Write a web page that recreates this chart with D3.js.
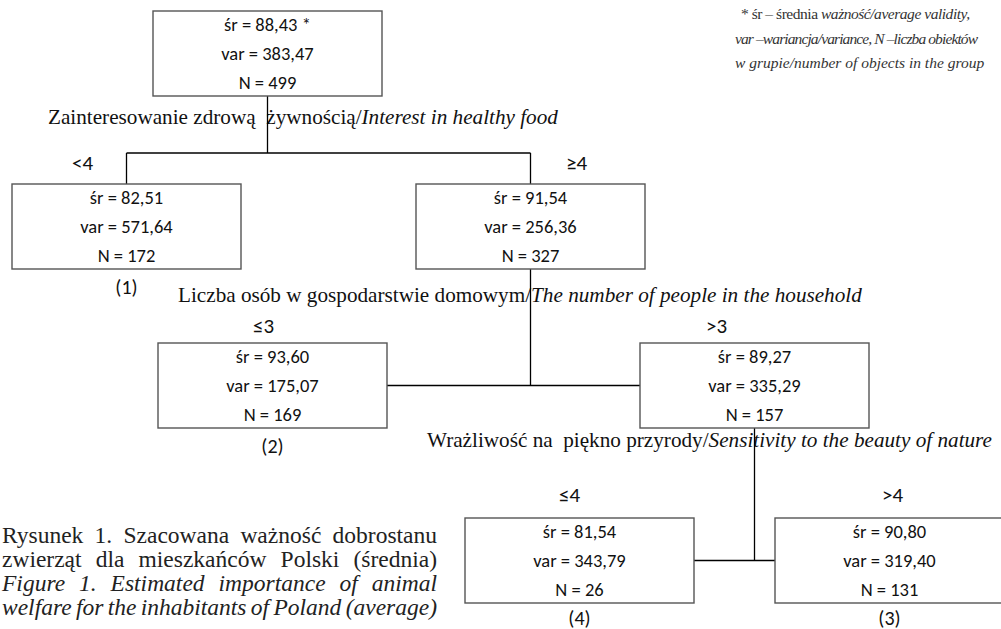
<!DOCTYPE html>
<html>
<head>
<meta charset="utf-8">
<script src="https://cdn.jsdelivr.net/npm/d3@7"></script>
<style>
body { margin: 0; background: #fff; }
svg { display: block; }
</style>
</head>
<body>
<svg id="chart"></svg>
<script>
// regression tree data
const nodeIds = ["root", "n1", "n2", "n3", "n4", "n5", "n6"];
const nodeDepth = [0, 1, 1, 2, 2, 3, 3];
const nodeMean = ["88,43 *", "82,51", "91,54", "93,60", "89,27", "81,54", "90,80"];
const nodeVar = ["383,47", "571,64", "256,36", "175,07", "335,29", "343,79", "319,40"];
const nodeN = [499, 172, 327, 169, 157, 26, 131];
const nodeParent = [null, "root", "root", "n2", "n2", "n4", "n4"];
const nodeCond = [null, "<4", "≥4", "≤3", ">3", "≤4", ">4"];
const nodeLeaf = [null, "(1)", null, "(2)", null, "(4)", "(3)"];

const splitParent = ["root", "n2", "n4"];
const splitPl = ["Zainteresowanie zdrową\u00a0 żywnością/", "Liczba osób w gospodarstwie domowym/", "Wrażliwość na\u00a0 piękno przyrody/"];
const splitEn = ["Interest in healthy food", "The number of people in the household", "Sensitivity to the beauty of nature"];

const noteLines = [
    [["* śr – średnia ", false], ["ważność/average validity,", true]],
    [["var –wariancja/variance, N –liczba obiektów", true]],
    [["w grupie/number of objects in the group", true]]
];
const captionLines = [
    ["Rysunek 1. Szacowana ważność dobrostanu", false],
    ["zwierząt dla mieszkańców Polski (średnia)", false],
    ["Figure 1. Estimated importance of animal", true],
    ["welfare for the inhabitants of Poland (average)", true]
];

const width = 1001, height = 629;
const boxW = 229, boxH = 85;
const serif = "'Liberation Serif', 'Times New Roman', serif";
const boxFont = "Carlito, Calibri, Lato, sans-serif";

const svg = d3.select("#chart").attr("width", width).attr("height", height);

// layout scales (hand placed like the original figure)
const yTop = d3.scaleOrdinal().domain([0, 1, 2, 3]).range([11, 184, 343, 518]);
const xMid = d3.scaleOrdinal().domain(nodeIds).range([267.5, 126.5, 530.5, 272.5, 754.5, 579.5, 889.5]);
const condDx = d3.scaleOrdinal().domain(nodeIds).range([0, -44, 46, -9, -38, -10, 3]);
const condY = d3.scaleOrdinal().domain([1, 2, 3]).range([163, 326, 495]);
const splitX = d3.scaleOrdinal().domain(splitParent).range([48, 178, 427]);
const splitY = d3.scaleOrdinal().domain(splitParent).range([124, 302, 447]);

const nodes = nodeIds.map((id, i) => ({
    id, depth: nodeDepth[i], mean: nodeMean[i], v: nodeVar[i], n: nodeN[i],
    parent: nodeParent[i], cond: nodeCond[i], leaf: nodeLeaf[i],
    x: xMid(id), y: yTop(nodeDepth[i])
}));
const byId = {};
nodes.forEach(d => byId[d.id] = d);

// connectors
const lines = [];
splitParent.forEach(pid => {
    const p = byId[pid];
    const kids = nodes.filter(d => d.parent == pid);
    const a = kids[0], b = kids[1];
    if (p.depth == 0) {
        // fork style
        const fy = 153;
        lines.push([p.x, p.y + boxH, p.x, fy]);
        lines.push([a.x, fy, b.x, fy]);
        lines.push([a.x, fy, a.x, a.y]);
        lines.push([b.x, fy, b.x, b.y]);
    } else {
        const my = a.y + boxH / 2;
        lines.push([p.x, p.y + boxH, p.x, my]);
        lines.push([a.x + boxW / 2, my, b.x - boxW / 2, my]);
    }
});

// split labels (drawn first so the connector passes over them)
const split = svg.append("g")
    .attr("font-family", serif)
    .attr("font-size", 21.2)
    .attr("fill", "#111")
    .selectAll("text")
    .data(splitParent)
    .join("text")
    .attr("x", d => splitX(d))
    .attr("y", d => splitY(d));
split.append("tspan").text((d, i) => splitPl[i]);
split.append("tspan").attr("font-style", "italic").text((d, i) => splitEn[i]);

svg.append("g")
    .attr("stroke", "#000")
    .attr("stroke-width", 1.3)
    .selectAll("line")
    .data(lines)
    .join("line")
    .attr("x1", d => d[0]).attr("y1", d => d[1])
    .attr("x2", d => d[2]).attr("y2", d => d[3]);

// boxes
const box = svg.append("g")
    .selectAll("g")
    .data(nodes)
    .join("g")
    .attr("transform", d => `translate(${d.x - boxW / 2},${d.y})`);

box.append("rect")
    .attr("width", boxW)
    .attr("height", boxH)
    .attr("fill", "#fff")
    .attr("stroke", "#555")
    .attr("stroke-width", 1.4);

const rowY = [14, 43, 72];
box.selectAll("text.row")
    .data(d => ["śr = " + d.mean, "var = " + d.v, "N = " + d.n])
    .join("text")
    .attr("class", "row")
    .attr("x", boxW / 2)
    .attr("y", (d, i) => rowY[i])
    .attr("dy", "0.35em")
    .attr("text-anchor", "middle")
    .attr("font-family", boxFont)
    .attr("font-size", 18.5)
    .attr("fill", "#111")
    .text(d => d);

// condition labels
svg.append("g")
    .selectAll("text")
    .data(nodes.filter(d => d.cond))
    .join("text")
    .attr("x", d => d.x + condDx(d.id))
    .attr("y", d => condY(d.depth))
    .attr("dy", "0.35em")
    .attr("text-anchor", "middle")
    .attr("font-family", boxFont)
    .attr("font-size", 21)
    .attr("fill", "#111")
    .text(d => d.cond);

// terminal node numbers
svg.append("g")
    .selectAll("text")
    .data(nodes.filter(d => d.leaf))
    .join("text")
    .attr("x", d => d.x)
    .attr("y", d => d.y + boxH + (d.depth == 3 ? 15 : 18))
    .attr("dy", "0.35em")
    .attr("text-anchor", "middle")
    .attr("font-family", boxFont)
    .attr("font-size", 20)
    .attr("fill", "#111")
    .text(d => d.leaf);

// footnote
const noteW = [229, 243, null];
const note = svg.append("g")
    .attr("font-family", serif)
    .attr("font-size", 15.5)
    .attr("fill", "#333")
    .selectAll("text")
    .data(noteLines)
    .join("text")
    .attr("x", (d, i) => i == 0 ? 741 : 735)
    .attr("y", (d, i) => 19 + i * 24.5)
    .attr("textLength", (d, i) => noteW[i])
    .attr("lengthAdjust", "spacing");
note.selectAll("tspan")
    .data(d => d)
    .join("tspan")
    .attr("font-style", d => d[1] ? "italic" : null)
    .text(d => d[0]);

// caption, justified by stretching the word gaps
const capW = 435;
svg.append("g")
    .attr("font-family", serif)
    .attr("font-size", 23.5)
    .attr("fill", "#222")
    .selectAll("text")
    .data(captionLines)
    .join("text")
    .attr("x", 2)
    .attr("y", (d, i) => 543 + i * 24)
    .attr("font-style", d => d[1] ? "italic" : null)
    .text(d => d[0])
    .each(function(d) {
        const len = this.getComputedTextLength();
        const gaps = d[0].split(" ").length - 1;
        d3.select(this).style("word-spacing", ((capW - len) / gaps) + "px");
    });
</script>
</body>
</html>
